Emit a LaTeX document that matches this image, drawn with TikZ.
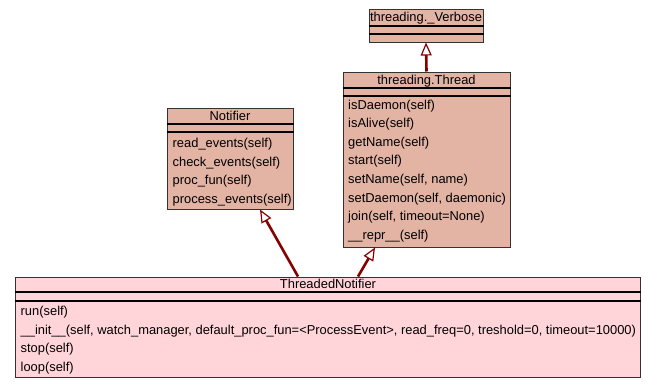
\documentclass[tikz,border=0pt]{standalone}
\usepackage{fontspec}
\setmainfont{Liberation Sans}
\usetikzlibrary{arrows.meta}
\definecolor{classfill}{HTML}{E3B3A4}
\definecolor{subfill}{HTML}{FFD5D9}
\definecolor{inherit}{HTML}{860000}
\newcommand{\umlfont}{\fontsize{12.9bp}{14bp}\selectfont}
\tikzset{
  classbox/.style={draw=black!80, line width=1bp, fill=classfill, inner sep=0pt},
  title/.style={inner sep=0pt, font=\umlfont, text height=10.5bp, text depth=1.5bp},
  method/.style={title, anchor=west},
  sep/.style={line width=1.4bp, black},
  extends/.style={draw=inherit, line width=2.6bp,
    -{Triangle[open, fill=white, length=13bp, width=11bp, line width=1.2bp]}}
}

\begin{document}
\begin{tikzpicture}[x=1bp, y=-1bp]
	\useasboundingbox (0,0) rectangle (656,389);
	% class boxes
	\node[classbox, minimum width=114bp, minimum height=33bp] (verbose) at (426,25.5) {};
	\node[classbox, minimum width=167bp, minimum height=175bp] (thread) at (426.5,159.5) {};
	\node[classbox, minimum width=126bp, minimum height=101bp] (notifier) at (230,158.5) {};
	\node[classbox, fill=subfill, minimum width=624bp, minimum height=100bp] (threaded) at (328,327) {};
	% compartments
	\draw[sep] (verbose.west |- 0,26) -- (verbose.east |- 0,26);
	\draw[sep] (verbose.west |- 0,34) -- (verbose.east |- 0,34);
	\draw[sep] (thread.west |- 0,88) -- (thread.east |- 0,88);
	\draw[sep] (thread.west |- 0,96) -- (thread.east |- 0,96);
	\draw[sep] (notifier.west |- 0,124) -- (notifier.east |- 0,124);
	\draw[sep] (notifier.west |- 0,132) -- (notifier.east |- 0,132);
	\draw[sep] (threaded.west |- 0,292) -- (threaded.east |- 0,292);
	\draw[sep] (threaded.west |- 0,301) -- (threaded.east |- 0,301);
	% class names
	\node[title] (verbose-name) at (426,17) {threading.\_Verbose};
	\node[title] (thread-name) at (426.5,79.5) {threading.Thread};
	\node[title] (notifier-name) at (230,115.5) {Notifier};
	\node[title] (threaded-name) at (328,284) {ThreadedNotifier};
	% methods
	\foreach \m [count=\i] in {isDaemon(self), isAlive(self), getName(self), start(self),
	    {setName(self, name)}, {setDaemon(self, daemonic)}, {join(self, timeout=None)},
	    \_\_repr\_\_(self)}
		\node[method] (thread-m\i) at (348,104.5+18.6*\i-18.6) {\m};
	\foreach \m [count=\i] in {read\_events(self), check\_events(self), proc\_fun(self),
	    process\_events(self)}
		\node[method] (notifier-m\i) at (172.5,143+18.6*\i-18.6) {\m};
	\foreach \m [count=\i] in {run(self),
	    {\_\_init\_\_(self, watch\_manager, default\_proc\_fun=<ProcessEvent>, read\_freq=0, treshold=0, timeout=10000)},
	    stop(self), loop(self)}
		\node[method] (threaded-m\i) at (20.5,311+18.5*\i-18.5) {\m};
	% inheritance
	\draw[extends] (thread.north) -- (verbose.south);
	\draw[extends] ([xshift=-30bp]threaded.north) -- ([xshift=30bp]notifier.south);
	\draw[extends] ([xshift=30bp]threaded.north) -- ([xshift=-51.5bp]thread.south);
\end{tikzpicture}
\end{document}
